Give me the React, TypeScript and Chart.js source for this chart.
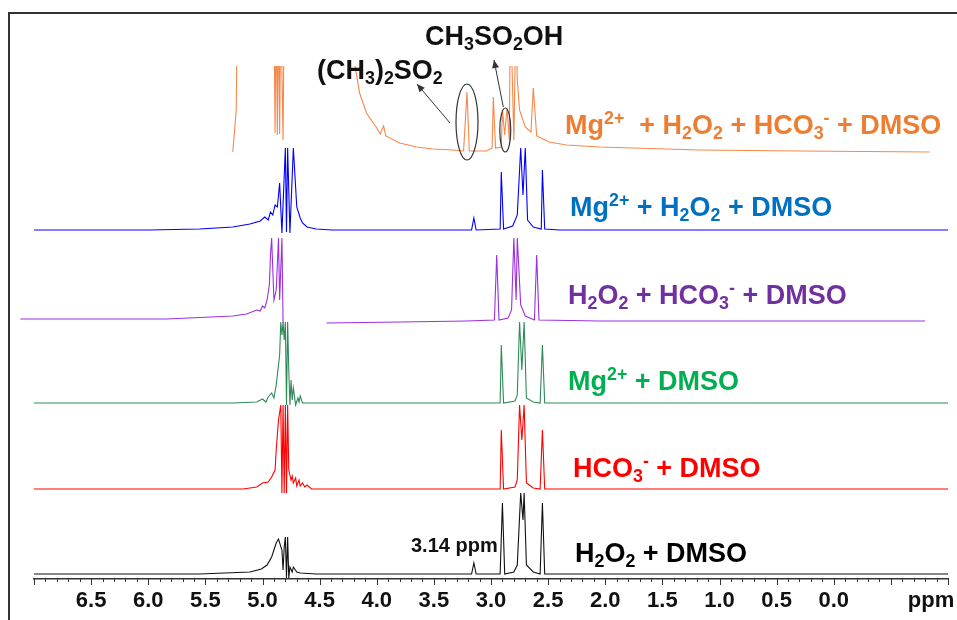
import React, { useEffect, useRef } from "react";
import { Chart, registerables } from "chart.js";

Chart.register(...registerables);

const FONT = '"Liberation Sans", Arial, Helvetica, sans-serif';

// ---------- data ----------
const seriesNames = [
  "Mg^{2+}  + H_{2}O_{2} + HCO_{3}^{-} + DMSO",
  "Mg^{2+} + H_{2}O_{2} + DMSO",
  "H_{2}O_{2} + HCO_{3}^{-} + DMSO",
  "Mg^{2+} + DMSO",
  "HCO_{3}^{-} + DMSO",
  "H_{2}O_{2} + DMSO",
];
const lineColors = ["#F7884A", "#0000FF", "#9B30E0", "#2E8B57", "#FF0000", "#111111"];
const labelColors = ["#ED7D31", "#0070C0", "#7030A0", "#00B050", "#FF0000", "#000000"];
// vertical stacking offset of each spectrum baseline
const baselineOffsets = [427, 349, 260, 176, 90, 5];

const orangePpm = [5.26, 5.23, 5.22, 4.9, 4.89, 4.88, 4.87, 4.86, 4.85, 4.84, 4.82, 4.81, 4.2, 4.19, 4.15, 4.09, 4.0, 3.97, 3.94, 3.92, 3.8, 3.65, 3.51, 3.33, 3.24, 3.21, 3.19, 3.04, 2.99, 2.98, 2.96, 2.91, 2.9, 2.88, 2.86, 2.84, 2.83, 2.8, 2.78, 2.77, 2.75, 2.7, 2.65, 2.63, 2.6, 2.49, 2.34, 2.05, 1.17, 0.3, -0.84];
const orangeInt = [0, 42, 150, 150, 19, 150, 17, 150, 18, 150, 12, 150, 150, 86, 59, 39, 24, 18, 26, 16, 9, 5, 3, 2, 1, 60, 1, 1, 4, 55, 4, 5, 42, 17, 44, 12, 150, 12, 150, 72, 42, 25, 20, 64, 16, 10, 7, 5, 2, 1, 0];

const bluePpm = [7.0, 5.99, 5.55, 5.26, 5.11, 5.02, 4.98, 4.95, 4.93, 4.91, 4.89, 4.87, 4.85, 4.83, 4.8, 4.79, 4.78, 4.76, 4.73, 4.7, 4.67, 4.65, 4.61, 4.53, 4.39, 3.17, 3.15, 3.13, 2.92, 2.91, 2.89, 2.81, 2.77, 2.74, 2.72, 2.7, 2.68, 2.63, 2.56, 2.55, 2.53, 2.4, -1.0];
const blueInt = [0, 0, 1, 3, 6, 9, 13, 10, 18, 15, 25, 23, 47, -3, 82, -2, 82, -3, 82, 23, 12, 7, 3, 1, 0, 0, 12, 0, 1, 58, 1, 4, 15, 82, 35, 82, 10, 3, 1, 60, 1, 0, 0];

const purplePpm = [7.12, 6.42, 5.84, 5.26, 5.14, 5.05, 5.02, 5.0, 4.98, 4.96, 4.94, 4.93, 4.92, 4.9, 4.88, 4.86, 4.85, 4.83, 4.82, 4.6, 4.44, 3.8, 3.21, 2.97, 2.95, 2.93, 2.85, 2.82, 2.8, 2.78, 2.77, 2.74, 2.7, 2.62, 2.6, 2.58, 2.05, 0.3, -0.8];
const purpleInt = [0, 0, 0, 3, 5, 9, 8, 13, 11, 19, 34, 64, 81, 19, 29, 81, 19, 81, -4, null, -4, -3, -2, -1, 64, -1, 1, 9, 81, 19, 81, 14, 3, -1, 64, -1, -2, -2, -2];

const greenPpm = [7.0, 5.26, 5.05, 5.0, 4.97, 4.95, 4.92, 4.9, 4.88, 4.87, 4.85, 4.84, 4.83, 4.82, 4.81, 4.8, 4.79, 4.78, 4.77, 4.76, 4.75, 4.74, 4.73, 4.71, 4.69, 4.68, 4.67, 4.65, 4.59, 2.92, 2.91, 2.89, 2.79, 2.77, 2.75, 2.73, 2.71, 2.69, 2.63, 2.57, 2.55, 2.53, -1.0];
const greenInt = [0, 0, 1, 4, 1, 6, 10, 5, 18, 28, 48, 81, 68, 81, 63, 81, -2, 81, 33, -2, 23, 3, 15, -2, 5, 1, 7, 0, 0, 0, 58, 0, 2, 8, 81, 33, 81, 5, 1, 0, 58, 0, 0];

const redPpm = [7.0, 5.17, 5.05, 5.0, 4.95, 4.92, 4.89, 4.88, 4.86, 4.84, 4.83, 4.82, 4.81, 4.8, 4.79, 4.78, 4.77, 4.75, 4.74, 4.73, 4.71, 4.7, 4.68, 4.67, 4.65, 4.63, 4.61, 4.57, 2.92, 2.91, 2.89, 2.79, 2.77, 2.75, 2.73, 2.71, 2.69, 2.63, 2.57, 2.55, 2.53, -1.0];
const redInt = [0, 0, 2, 6, 7, 12, 19, 39, 69, 84, -4, 84, -4, 84, -4, 84, 19, 9, 13, 6, 11, 3, 9, 3, 6, 2, 4, 0, 0, 59, 0, 2, 9, 84, 49, 84, 6, 1, 0, 59, 0, 0];

const blackPpm = [7.0, 5.55, 5.11, 5.01, 4.96, 4.92, 4.88, 4.86, 4.83, 4.82, 4.81, 4.8, 4.79, 4.78, 4.77, 4.76, 4.74, 4.73, 4.7, 4.67, 4.53, 3.17, 3.15, 3.13, 2.92, 2.9, 2.88, 2.8, 2.77, 2.74, 2.72, 2.71, 2.69, 2.63, 2.57, 2.55, 2.53, -1.0];
const blackInt = [0, 0, 2, 5, 9, 17, 31, 35, 24, 4, 27, 37, -4, 37, -4, 7, 2, 7, 2, 1, 0, 0, 11, 0, 0, 71, 0, 2, 9, 81, 54, 81, 9, 2, 0, 71, 0, 0];

const spectraPpm = [orangePpm, bluePpm, purplePpm, greenPpm, redPpm, blackPpm];
const spectraInt = [orangeInt, blueInt, purpleInt, greenInt, redInt, blackInt];

// axis
const xMin = -1.0;
const xMax = 7.0;
const tickStep = 0.1;
const labelledMin = 0.0;
const labelledMax = 6.5;

// annotations
const compoundLabels = ["(CH_{3})_{2}SO_{2}", "CH_{3}SO_{2}OH"];
const compoundPpm = [3.21, 2.875];
const shiftNote = "3.14 ppm";

// ---------- helpers ----------
type Seg = { t: string; k: "n" | "sub" | "sup" };
function parseRich(s: string): Seg[] {
  const out: Seg[] = [];
  const re = /\^\{([^}]*)\}|_\{([^}]*)\}|([^^_]+)/g;
  let m: RegExpExecArray | null;
  while ((m = re.exec(s))) {
    if (m[1] !== undefined) out.push({ t: m[1], k: "sup" });
    else if (m[2] !== undefined) out.push({ t: m[2], k: "sub" });
    else out.push({ t: m[3], k: "n" });
  }
  return out;
}
function drawRich(ctx: CanvasRenderingContext2D, text: string, x: number, y: number, size: number, color: string) {
  const segs = parseRich(text);
  let cx = x;
  ctx.fillStyle = color;
  ctx.textAlign = "left";
  ctx.textBaseline = "alphabetic";
  for (const s of segs) {
    const fs = s.k === "n" ? size : size * 0.66;
    ctx.font = `bold ${fs}px ${FONT}`;
    const dy = s.k === "sub" ? size * 0.2 : s.k === "sup" ? -size * 0.36 : 0;
    ctx.fillText(s.t, cx, y + dy);
    cx += ctx.measureText(s.t).width;
  }
}
function arrow(ctx: CanvasRenderingContext2D, x1: number, y1: number, x2: number, y2: number) {
  ctx.beginPath();
  ctx.moveTo(x1, y1);
  ctx.lineTo(x2, y2);
  ctx.stroke();
  const a = Math.atan2(y2 - y1, x2 - x1);
  const L = 8, W = 3.5;
  ctx.beginPath();
  ctx.moveTo(x2, y2);
  ctx.lineTo(x2 - L * Math.cos(a) + W * Math.sin(a), y2 - L * Math.sin(a) - W * Math.cos(a));
  ctx.lineTo(x2 - L * Math.cos(a) - W * Math.sin(a), y2 - L * Math.sin(a) + W * Math.cos(a));
  ctx.closePath();
  ctx.fill();
}

const labelPos = [
  [565, 134],
  [570, 216],
  [568, 304],
  [568, 390],
  [573, 477],
  [575, 562],
];

const decorPlugin = {
  id: "decor",
  afterDraw(chart: any) {
    const ctx: CanvasRenderingContext2D = chart.ctx;
    const xs = chart.scales.x;
    const ys = chart.scales.y;
    const area = chart.chartArea;
    ctx.save();
    // ticks
    ctx.strokeStyle = "#333";
    ctx.lineWidth = 1;
    for (const t of xs.ticks) {
      const v = t.value;
      const major = Math.abs(v * 2 - Math.round(v * 2)) < 1e-6;
      const px = Math.round(xs.getPixelForValue(v)) + 0.5;
      ctx.beginPath();
      ctx.moveTo(px, area.bottom);
      ctx.lineTo(px, area.bottom + (major ? 6 : 3));
      ctx.stroke();
    }
    // ppm unit
    ctx.fillStyle = "#111";
    ctx.font = `bold 22px ${FONT}`;
    ctx.textAlign = "center";
    ctx.textBaseline = "middle";
    ctx.fillText("ppm", 931, 601);

    // series labels
    seriesNames.forEach((n, i) => drawRich(ctx, n, labelPos[i][0], labelPos[i][1], 27, labelColors[i]));

    // 3.14 ppm
    ctx.fillStyle = "#111";
    ctx.font = `bold 20px ${FONT}`;
    ctx.textAlign = "left";
    ctx.textBaseline = "alphabetic";
    ctx.fillText(shiftNote, 411, 552);

    // ellipses
    ctx.strokeStyle = "#333";
    ctx.fillStyle = "#333";
    ctx.lineWidth = 1.2;
    const e1x = xs.getPixelForValue(compoundPpm[0]);
    const e2x = xs.getPixelForValue(compoundPpm[1]);
    const base = ys.getPixelForValue(baselineOffsets[0]);
    ctx.beginPath();
    ctx.ellipse(e1x, base - 30, 11, 38, 0, 0, Math.PI * 2);
    ctx.stroke();
    ctx.beginPath();
    ctx.ellipse(e2x, base - 22, 5.5, 22, 0, 0, Math.PI * 2);
    ctx.stroke();
    // arrows
    ctx.lineWidth = 1;
    arrow(ctx, e1x - 17, base - 29, 417, 84);
    arrow(ctx, e2x - 2, base - 45, 494, 60);
    // compound labels
    drawRich(ctx, compoundLabels[0], 317, 79, 27, "#111");
    drawRich(ctx, compoundLabels[1], 425, 45, 27, "#111");
    ctx.restore();
  },
};

export default function App() {
  const ref = useRef<HTMLCanvasElement | null>(null);
  useEffect(() => {
    if (!ref.current) return;
    const datasets = spectraPpm.map((ppm, i) => ({
      label: seriesNames[i],
      data: ppm.map((p, j) => ({
        x: p,
        y: spectraInt[i][j] === null ? null : (spectraInt[i][j] as number) + baselineOffsets[i],
      })),
      borderColor: lineColors[i],
      borderWidth: 1.1,
      pointRadius: 0,
      tension: 0,
      fill: false,
      spanGaps: false,
      clip: i === 2 ? { left: 20, top: 0, right: 0, bottom: 0 } : 0,
    }));
    const chart = new Chart(ref.current, {
      type: "line",
      data: { datasets: datasets as any },
      options: {
        animation: false,
        responsive: true,
        maintainAspectRatio: false,
        parsing: true,
        layout: { padding: { left: 34, right: 9, top: 66, bottom: 0 } },
        plugins: { legend: { display: false }, tooltip: { enabled: false } },
        scales: {
          x: {
            type: "linear",
            reverse: true,
            min: xMin,
            max: xMax,
            afterFit: (s: any) => {
              s.height = 41;
            },
            border: { display: true, color: "#333", width: 1.5 },
            grid: { display: true, drawOnChartArea: false, drawTicks: false },
            ticks: {
              stepSize: tickStep,
              maxTicksLimit: 200,
              autoSkip: false,
              maxRotation: 0,
              padding: 9,
              color: "#111",
              font: { family: FONT, size: 22, weight: "bold" },
              callback: (v: any) => {
                const n = Number(v);
                const major = Math.abs(n * 2 - Math.round(n * 2)) < 1e-6;
                if (major && n >= labelledMin - 1e-6 && n <= labelledMax + 1e-6) return Math.abs(n).toFixed(1);
                return "";
              },
            },
          },
          y: { type: "linear", display: false, min: 0, max: 513 },
        },
      },
      plugins: [decorPlugin],
    });
    return () => chart.destroy();
  }, []);
  return (
    <div style={{ position: "absolute", left: 0, top: 0, width: 957, height: 620, background: "#fff" }}>
      <canvas ref={ref} />
      <div style={{ position: "absolute", left: 8, top: 12, width: 949, height: 608, borderLeft: "2px solid #333", borderTop: "2px solid #333", pointerEvents: "none" }} />
    </div>
  );
}
